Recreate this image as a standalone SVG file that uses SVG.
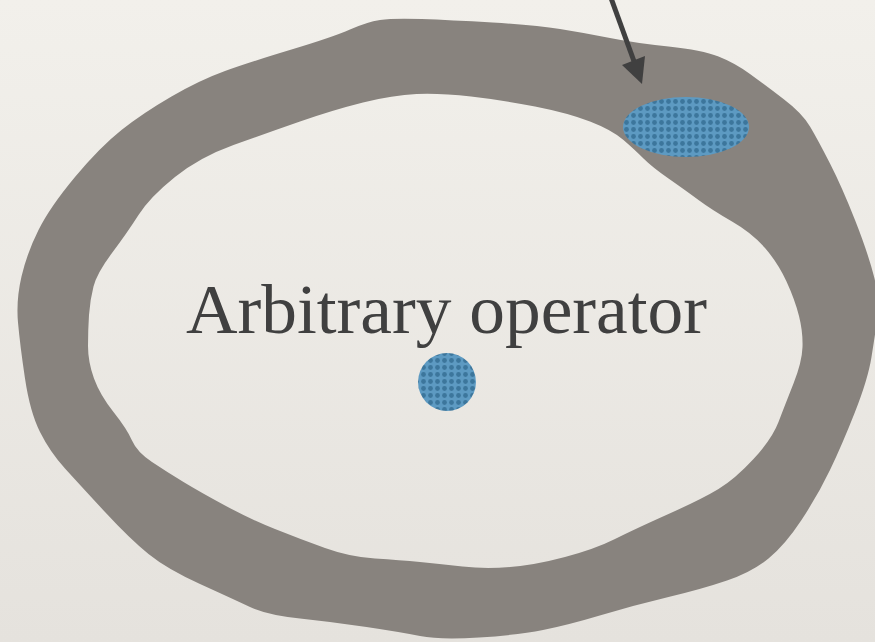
<svg xmlns="http://www.w3.org/2000/svg" width="875" height="642" viewBox="0 0 875 642">
<defs>
<linearGradient id="paper" x1="0" y1="0" x2="0" y2="1">
<stop offset="0" stop-color="#f2f0eb"/>
<stop offset="1" stop-color="#e5e2dd"/>
</linearGradient>
<pattern id="mesh" width="7" height="7" patternUnits="userSpaceOnUse">
<rect width="7" height="7" fill="#5d9ac2"/>
<circle cx="3.5" cy="3.5" r="2.4" fill="#31698f" opacity="0.75"/>
</pattern>
<style>
.ring{fill:#88837e;fill-rule:evenodd}
.blue{fill:url(#mesh)}
.label{font-family:"Liberation Serif","Times New Roman",serif;font-size:69px;fill:#404040}
.conn{stroke:#404040;stroke-width:5;fill:none}
.head{fill:#404040}
</style>
</defs>
<rect width="875" height="642" fill="url(#paper)"/>
<g id="ring">
<path class="ring" d="M380,20 Q393,18 421.5,19 Q450,20 492.5,22.5 Q535,25 560,29 Q585,33 610,38 Q635,43 668.5,46.5 Q702,50 718.5,56.5 Q735,63 750,74 Q765,85 783.5,99 Q802,113 810,126.5 Q818,140 830,163.5 Q842,187 855,220 Q868,253 874,276.5 Q880,300 877.5,317.5 Q875,335 871.5,357 Q868,379 855,412 Q842,445 830,470 Q818,495 801.5,520 Q785,545 768.5,558.5 Q752,572 727,580.5 Q702,589 668.5,597 Q635,605 601.5,615 Q568,625 543,630 Q518,635 479,637.5 Q440,640 420,636 Q400,632 366.5,627 Q333,622 300,618.5 Q267,615 250,607 Q233,599 200,584 Q167,569 148.5,554 Q130,539 105,512 Q80,485 65,468.5 Q50,452 40,432 Q30,412 25,378.5 Q20,345 18,322.5 Q16,300 21.5,276.5 Q27,253 38.5,230 Q50,207 75,177 Q100,147 121.5,130 Q143,113 171.5,96.5 Q200,80 225,71 Q250,62 291.5,49.5 Q333,37 350,29.5 Q367,22 380,20 Z M363,102.5 Q393,95 416.5,94 Q440,93 471,96.5 Q502,100 535,106.5 Q568,113 590,121.5 Q612,130 623.5,140 Q635,150 643.5,158.5 Q652,167 668.5,178.5 Q685,190 698.5,200 Q712,210 732,221.5 Q752,233 765,248 Q778,263 786.5,281.5 Q795,300 799,316 Q803,332 802.5,347 Q802,362 793.5,383.5 Q785,405 778.5,422 Q772,439 753.5,459 Q735,479 718.5,489 Q702,499 668.5,514 Q635,529 615,539 Q595,549 565,557 Q535,565 510,567 Q485,569 462.5,566.5 Q440,564 420,562 Q400,560 375,558.5 Q350,557 325,548 Q300,539 275,529 Q250,519 225,505.5 Q200,492 183.5,482 Q167,472 152,462 Q137,452 132,440.5 Q127,429 113.5,412 Q100,395 94,378.5 Q88,362 88,346 Q88,330 89,315 Q90,300 93.5,286.5 Q97,273 112,253 Q127,233 138.5,215 Q150,197 175,177 Q200,157 233.5,145 Q267,133 300,121.5 Q333,110 363,102.5 Z"/>
</g>
<g id="spot">
<ellipse class="blue" cx="686" cy="127" rx="63" ry="30"/>
</g>
<g id="dot">
<circle class="blue" cx="447" cy="382" r="29"/>
</g>
<g id="label">
<text class="label" x="186" y="333" textLength="521" lengthAdjust="spacingAndGlyphs">Arbitrary operator</text>
</g>
<g id="connectors">
<line class="conn" x1="611" y1="-2" x2="635" y2="64"/>
<polygon class="head" points="642,84 622,65 645,56"/>
</g>
</svg>
